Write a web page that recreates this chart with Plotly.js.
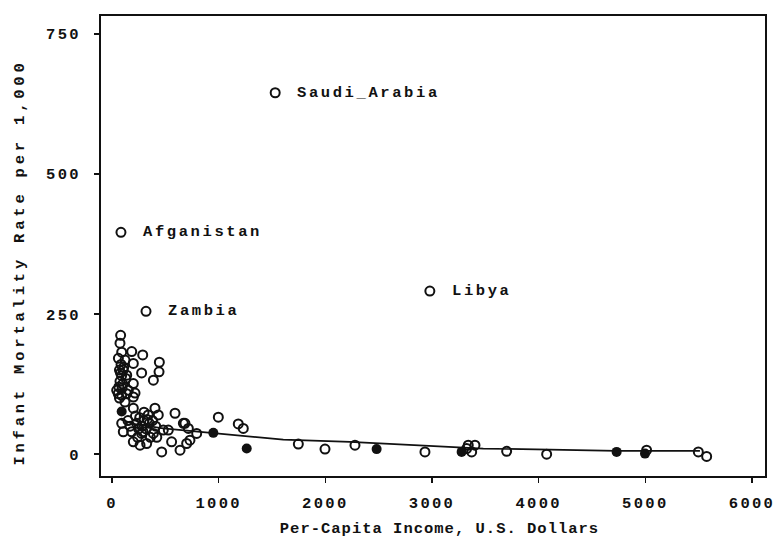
<!DOCTYPE html>
<html>
<head>
<meta charset="utf-8">
<script src="https://cdn.plot.ly/plotly-3.0.1.min.js"></script>
<style>
  html, body { margin:0; padding:0; background:#fff; }
  #chart { width:774px; height:540px; }
  .xtick text, .ytick text { letter-spacing: 2.3px; }
  .annotation-text { letter-spacing: 2.6px; }
  .annotation:nth-last-of-type(2) .annotation-text { letter-spacing: 1px; }
  .annotation:last-of-type .annotation-text { letter-spacing: 3.8px; }
</style>
</head>
<body>
<div id="chart"></div>
<script>
// Labelled countries
const labelNames  = ["Saudi_Arabia", "Afganistan", "Zambia", "Libya"];
const labelIncome = [1530, 84, 319, 2980];
const labelInfant = [645, 396, 255, 291];

// Other countries drawn as open circles (per-capita income, infant mortality)
const openIncome = [
  81, 75, 91, 185, 288, 60, 122, 200, 444, 441, 278, 388, 138, 200, 153, 44, 216, 91, 59, 138, 200, 122,
  70, 90, 75, 100, 65, 110, 85, 130, 80, 95, 70, 105,
  403, 591, 200, 91, 106, 185, 278, 388, 481, 528, 684, 200, 263, 325, 559, 466, 638, 669, 716, 794, 731, 700,
  434, 260, 300, 350, 280, 320, 380, 410, 230, 250, 340, 300, 220, 150, 170, 360, 420, 240, 290, 330,
  997, 1184, 1231,
  1747, 1997, 2278, 2934, 3325, 3372, 3403, 3340, 3700, 4075, 5012, 5497, 5575
];
const openInfant = [
  212, 198, 182, 183, 177, 171, 168, 162, 164, 147, 145, 132, 141, 126, 114, 114, 109, 105, 108, 108, 102, 93,
  150, 140, 130, 125, 120, 155, 160, 135, 145, 118, 100, 150,
  82, 73, 82, 55, 40, 40, 37, 37, 43, 43, 55, 22, 16, 19, 22, 4, 7, 55, 46, 37, 25, 19,
  70, 65, 60, 55, 50, 45, 60, 50, 55, 45, 70, 75, 68, 60, 50, 30, 30, 30, 40, 62,
  66, 54, 46,
  18, 9, 16, 4, 10, 4, 16, 16, 5, 0, 7, 4, -4
];

// Points that print as solid dots (overplotted)
const solidIncome = [91, 950, 1263, 2481, 3278, 4731, 4997];
const solidInfant = [76, 38, 10, 9, 4, 4, 1];

// Smooth fitted curve
const fitIncome = [80, 200, 480, 950, 1294, 1606, 2231, 2856, 3481, 4106, 4731, 5512];
const fitInfant = [62, 54, 46, 38, 31, 26, 22, 16, 10, 8, 6, 6];

const xTickVals = [0, 1000, 2000, 3000, 4000, 5000, 6000];
const yTickVals = [0, 250, 500, 750];

const xTitle = "Per-Capita Income, U.S. Dollars";
const yTitle = "Infant Mortality Rate per 1,000";

const FONT = {family: "Liberation Mono, DejaVu Sans Mono, monospace", size: 15.5, color: "#111", weight: "bold"};

const traces = [
  {
    x: fitIncome, y: fitInfant, type: "scatter", mode: "lines",
    line: {color: "#111", width: 1.7}, hoverinfo: "skip"
  },
  {
    x: openIncome.concat(labelIncome), y: openInfant.concat(labelInfant),
    type: "scatter", mode: "markers",
    marker: {symbol: "circle-open", size: 9, color: "#111", line: {width: 2, color: "#111"}}
  },
  {
    x: solidIncome, y: solidInfant, type: "scatter", mode: "markers",
    marker: {symbol: "circle", size: 10, color: "#111"}
  }
];

const annotations = labelNames.map((n, i) => ({
  x: labelIncome[i], y: labelInfant[i], xref: "x", yref: "y",
  text: n, showarrow: false, xanchor: "left", yanchor: "middle",
  xshift: 20, font: FONT
}));
// axis titles, placed as in the original
annotations.push({
  x: 0.5, y: 0, xref: "paper", yref: "paper",
  text: xTitle, showarrow: false, xanchor: "center", yanchor: "middle",
  yshift: -53, xshift: 6, font: FONT
});
annotations.push({
  x: 0, y: 0.463, xref: "paper", yref: "paper",
  text: yTitle, showarrow: false, xanchor: "center", yanchor: "middle",
  textangle: -90, xshift: -81, font: FONT
});

const layout = {
  width: 774, height: 540,
  margin: {l: 101, r: 9, t: 16, b: 64},
  paper_bgcolor: "#fff", plot_bgcolor: "#fff",
  showlegend: false,
  font: FONT,
  annotations: annotations,
  xaxis: {
    range: [-103, 6122], tickvals: xTickVals, ticktext: xTickVals.map(String),
    showgrid: false, zeroline: false,
    showline: true, mirror: true, linecolor: "#111", linewidth: 2,
    ticks: "outside", ticklen: 5, tickwidth: 1.5, tickcolor: "#111",
    ticklabelstandoff: 6, ticklabeloverflow: "allow", tickfont: FONT
  },
  yaxis: {
    range: [-39, 782], tickvals: yTickVals, ticktext: yTickVals.map(String),
    showgrid: false, zeroline: false,
    showline: true, mirror: true, linecolor: "#111", linewidth: 2,
    ticks: "outside", ticklen: 5, tickwidth: 1.5, tickcolor: "#111",
    ticklabelstandoff: 10, tickfont: FONT
  }
};

Plotly.newPlot("chart", traces, layout, {displayModeBar: false, staticPlot: true});
</script>
</body>
</html>
